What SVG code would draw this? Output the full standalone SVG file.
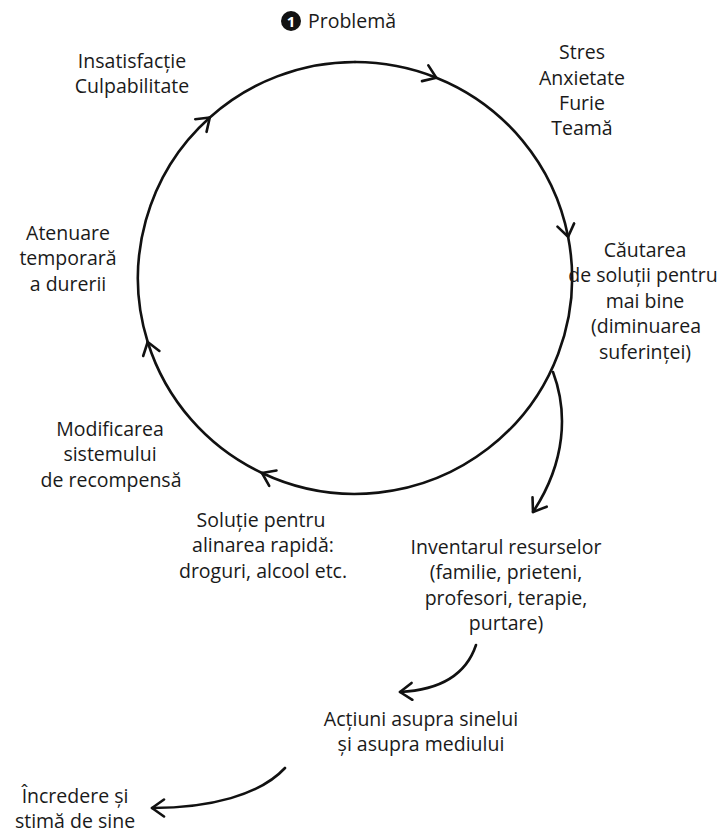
<svg xmlns="http://www.w3.org/2000/svg" width="727" height="835" viewBox="0 0 727 835">
<style>
  text { font-family: "Open Sans", "Noto Sans", "Liberation Sans", sans-serif; font-size: 19.5px; fill: #1a1a1a; text-anchor: middle; }
  .line { fill: none; stroke: #111; stroke-width: 2.6; stroke-linecap: round; }
</style>
<defs>
  <marker id="arr" viewBox="-16 -10 20 20" markerWidth="20" markerHeight="20" refX="0" refY="0" orient="auto" markerUnits="userSpaceOnUse">
    <path d="M -12 -8.5 L 0 0 L -12 8.5" fill="none" stroke="#111" stroke-width="2.6" stroke-linecap="round" stroke-linejoin="round"/>
  </marker>
</defs>
<rect width="727" height="835" fill="#ffffff"/>

<g id="connectors">
  <path class="line" marker-end="url(#arr)" d="M 355 62 A 217 216 0 0 1 436.3 77.7"/>
  <path class="line" marker-end="url(#arr)" d="M 436.3 77.7 A 217 216 0 0 1 568.1 236.8"/>
  <path class="line" marker-end="url(#arr)" d="M 568.1 236.8 A 217 216 0 0 1 262 473"/>
  <path class="line" marker-end="url(#arr)" d="M 262 473 A 217 216 0 0 1 147.7 342"/>
  <path class="line" marker-end="url(#arr)" d="M 147.7 342 A 217 216 0 0 1 209.8 117.5"/>
  <path class="line" d="M 209.8 117.5 A 217 216 0 0 1 355 62"/>
  <path class="line" marker-end="url(#arr)" d="M 553 372 C 568 412, 566 462, 533 512"/>
  <path class="line" marker-end="url(#arr)" d="M 476 645 C 466 675, 440 690, 400 692"/>
  <path class="line" marker-end="url(#arr)" d="M 285 768 C 260 795, 210 808, 152 808"/>
</g>

<g id="problema">
  <circle cx="291" cy="21" r="10" fill="#111"/>
  <text x="291" y="27" style="font-size:15px;font-weight:bold;fill:#fff">1</text>
  <text x="308" y="28" style="text-anchor:start">Problemă</text>
</g>
<g id="insatisfactie">
  <text x="132" y="68">Insatisfacție</text>
  <text x="132" y="93">Culpabilitate</text>
</g>
<g id="stres">
  <text x="582" y="59">Stres</text>
  <text x="582" y="85">Anxietate</text>
  <text x="582" y="110">Furie</text>
  <text x="582" y="135">Teamă</text>
</g>
<g id="cautarea">
  <text x="645" y="257">Căutarea</text>
  <text x="643" y="282">de soluții pentru</text>
  <text x="645" y="308">mai bine</text>
  <text x="646" y="333">(diminuarea</text>
  <text x="645" y="359">suferinței)</text>
</g>
<g id="atenuare">
  <text x="68" y="240">Atenuare</text>
  <text x="68" y="265">temporară</text>
  <text x="68" y="291">a durerii</text>
</g>
<g id="modificarea">
  <text x="110" y="436">Modificarea</text>
  <text x="110" y="461">sistemului</text>
  <text x="111" y="487">de recompensă</text>
</g>
<g id="solutie">
  <text x="261" y="527">Soluție pentru</text>
  <text x="263" y="552">alinarea rapidă:</text>
  <text x="263" y="578">droguri, alcool etc.</text>
</g>
<g id="inventarul">
  <text x="506" y="554">Inventarul resurselor</text>
  <text x="506" y="579">(familie, prieteni,</text>
  <text x="506" y="605">profesori, terapie,</text>
  <text x="506" y="630">purtare)</text>
</g>
<g id="actiuni">
  <text x="421" y="726">Acțiuni asupra sinelui</text>
  <text x="421" y="751">și asupra mediului</text>
</g>
<g id="incredere">
  <text x="75" y="803">Încredere și</text>
  <text x="75" y="828">stimă de sine</text>
</g>
</svg>
